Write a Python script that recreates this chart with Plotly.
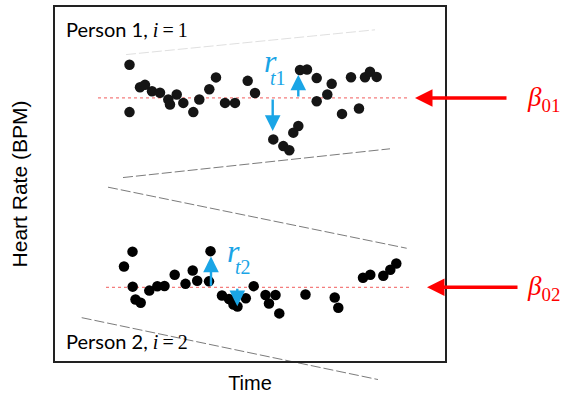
import plotly.graph_objects as go

# ---- data (time index, heart rate in arbitrary chart units) ----
p1_time = [74.5, 74.5, 85, 90, 97, 105, 113.3, 115, 121.7, 128.3, 138.3, 144.3, 154.3, 161,
           170, 180, 192.7, 200, 218.3, 228.3, 234.3, 238.3, 243.3, 245, 252, 261.7, 261.7,
           272.3, 276.7, 287, 296, 304, 310, 315, 321.7]
p1_hr = [298.7, 251, 276, 278.5, 272, 270.5, 263.7, 258.7, 268.7, 260.3, 251, 263.7, 274, 286,
         260.3, 260.3, 282.5, 270.3, 223.5, 216.7, 212.5, 230.3, 237, 293.5, 294, 285.3, 262,
         268.7, 279.5, 249.2, 286.2, 254.7, 286.2, 291.7, 286.5]

p2_time = [77.5, 69, 77.7, 80.5, 85.7, 94.3, 102.3, 109.5, 119.7, 130.5, 137.7, 142.2, 155.5,
           154, 167, 174, 178.5, 182.5, 190.8, 198.7, 210.5, 214, 220.5, 224.3, 250.5, 279.7,
           283.3, 308, 315.3, 328.3, 335.3, 341.3]
p2_hr = [110.3, 95.3, 75, 62, 58.7, 71, 75.3, 75.7, 87, 77.8, 91.2, 81, 110.8, 80.3, 66, 62.5,
         57, 55, 63.3, 75.5, 66.5, 58, 66.5, 48, 67, 64, 53.7, 84, 87, 86, 92, 98.3]

beta01 = 265.3
beta02 = 74.3
beta01_span = [43, 352]
beta02_span = [51, 355]

# residual arrows: (time, base, tip)
r1_up = (243.3, beta01, 288.7)
r1_down = (217.7, beta01, 232.0)
r2_up = (156.0, beta02, 105.3)
r2_down = (182.3, beta02, 55.3)

X_RANGE = [0, 390]
Y_RANGE = [0, 357]

BLUE = "#1AA5E6"
RED = "#FF0000"
SERIF = "Liberation Serif"

fig = go.Figure()

# decorative faint grey lines (paper coordinates, may extend past the frame)
def px2paper(px, py):
    return (px - 55) / 390.0, (362 - py) / 357.0

deco = [((126, 53), (375, 28), "rgba(150,150,150,0.3)"),
        ((123, 177), (390, 148), "rgba(90,90,90,0.8)"),
        ((108, 186.7), (406.7, 248.3), "rgba(90,90,90,0.8)"),
        ((81.7, 318.3), (378, 380.7), "rgba(90,90,90,0.8)")]
for (a, b, col) in deco:
    x0, y0 = px2paper(*a)
    x1, y1 = px2paper(*b)
    fig.add_shape(type="line", xref="paper", yref="paper", x0=x0, y0=y0, x1=x1, y1=y1,
                  line=dict(color=col, width=1, dash="10px,3px"), layer="below")

# beta reference lines
for span, b in [(beta01_span, beta01), (beta02_span, beta02)]:
    fig.add_trace(go.Scatter(x=span, y=[b, b], mode="lines",
                             line=dict(color="rgba(240,70,70,0.7)", width=1.2, dash="dot"),
                             showlegend=False, hoverinfo="skip"))

# points
fig.add_trace(go.Scatter(x=p1_time, y=p1_hr, mode="markers",
                         marker=dict(color="#151515", size=10.5, line=dict(width=0)),
                         name="Person 1", showlegend=False))
fig.add_trace(go.Scatter(x=p2_time, y=p2_hr, mode="markers",
                         marker=dict(color="#000", size=10.5, line=dict(width=0)),
                         name="Person 2", showlegend=False))

# residual arrows
for (t, base, tip) in [r1_up, r1_down, r2_up, r2_down]:
    fig.add_annotation(x=t, y=tip, ax=t, ay=base, xref="x", yref="y", axref="x", ayref="y",
                       text="", showarrow=True, arrowhead=2, arrowsize=1.3, arrowwidth=2.4,
                       arrowcolor=BLUE, standoff=0, startstandoff=0)

# residual labels
fig.add_annotation(x=215, y=303, xref="x", yref="y", text="<i>r</i>", showarrow=False,
                   font=dict(family=SERIF, size=32, color=BLUE))
fig.add_annotation(x=223, y=285, xref="x", yref="y", text="<i>t</i>1", showarrow=False,
                   font=dict(family=SERIF, size=20, color=BLUE))
fig.add_annotation(x=178, y=111, xref="x", yref="y", text="<i>r</i>", showarrow=False,
                   font=dict(family=SERIF, size=32, color=BLUE))
fig.add_annotation(x=188, y=95, xref="x", yref="y", text="<i>t</i>2", showarrow=False,
                   font=dict(family=SERIF, size=20, color=BLUE))

# beta arrows and labels
fig.add_annotation(x=360, y=beta01, xref="x", yref="y", ax=93, ay=0, text="",
                   showarrow=True, arrowhead=2, arrowsize=1, arrowwidth=3.5, arrowcolor=RED)
fig.add_annotation(x=372, y=beta02, xref="x", yref="y", ax=92, ay=0, text="",
                   showarrow=True, arrowhead=2, arrowsize=1, arrowwidth=3.5, arrowcolor=RED)
fig.add_annotation(x=1.204, y=beta01 - 1, xref="paper", yref="y", xanchor="left",
                   yanchor="middle", text="<i>β</i><sub>01</sub>", showarrow=False,
                   font=dict(family=SERIF, size=27, color=RED))
fig.add_annotation(x=1.204, y=beta02 - 1, xref="paper", yref="y", xanchor="left",
                   yanchor="middle", text="<i>β</i><sub>02</sub>", showarrow=False,
                   font=dict(family=SERIF, size=27, color=RED))

# person labels
fig.add_annotation(x=0.022, y=0.937, xref="paper", yref="paper", xanchor="left",
                   yanchor="middle",
                   text="Person 1, <span style='font-family:Liberation Serif'><i>i</i>\u2009=\u20091</span>",
                   showarrow=False, font=dict(family="Lato", size=20, color="#000"))
fig.add_annotation(x=0.022, y=0.057, xref="paper", yref="paper", xanchor="left",
                   yanchor="middle",
                   text="Person 2, <span style='font-family:Liberation Serif'><i>i</i>\u2009=\u20092</span>",
                   showarrow=False, font=dict(family="Lato", size=20, color="#000"))

axis_common = dict(showgrid=False, zeroline=False, showticklabels=False, ticks="",
                   showline=True, mirror=True, linecolor="#222", linewidth=1.5)

fig.update_layout(
    width=561, height=394,
    margin=dict(l=55, r=116, t=5, b=32),
    paper_bgcolor="white", plot_bgcolor="white",
    xaxis=dict(range=X_RANGE, title=dict(text="Time", standoff=14,
               font=dict(family="Liberation Sans", size=20, color="#000")), **axis_common),
    yaxis=dict(range=Y_RANGE, title=dict(text="Heart Rate (BPM)", standoff=20,
               font=dict(family="Liberation Sans", size=21, color="#000")), **axis_common),
    showlegend=False,
)

fig.write_html("out.html", config={"displayModeBar": False},
               post_script="document.body.style.margin='0px';")
